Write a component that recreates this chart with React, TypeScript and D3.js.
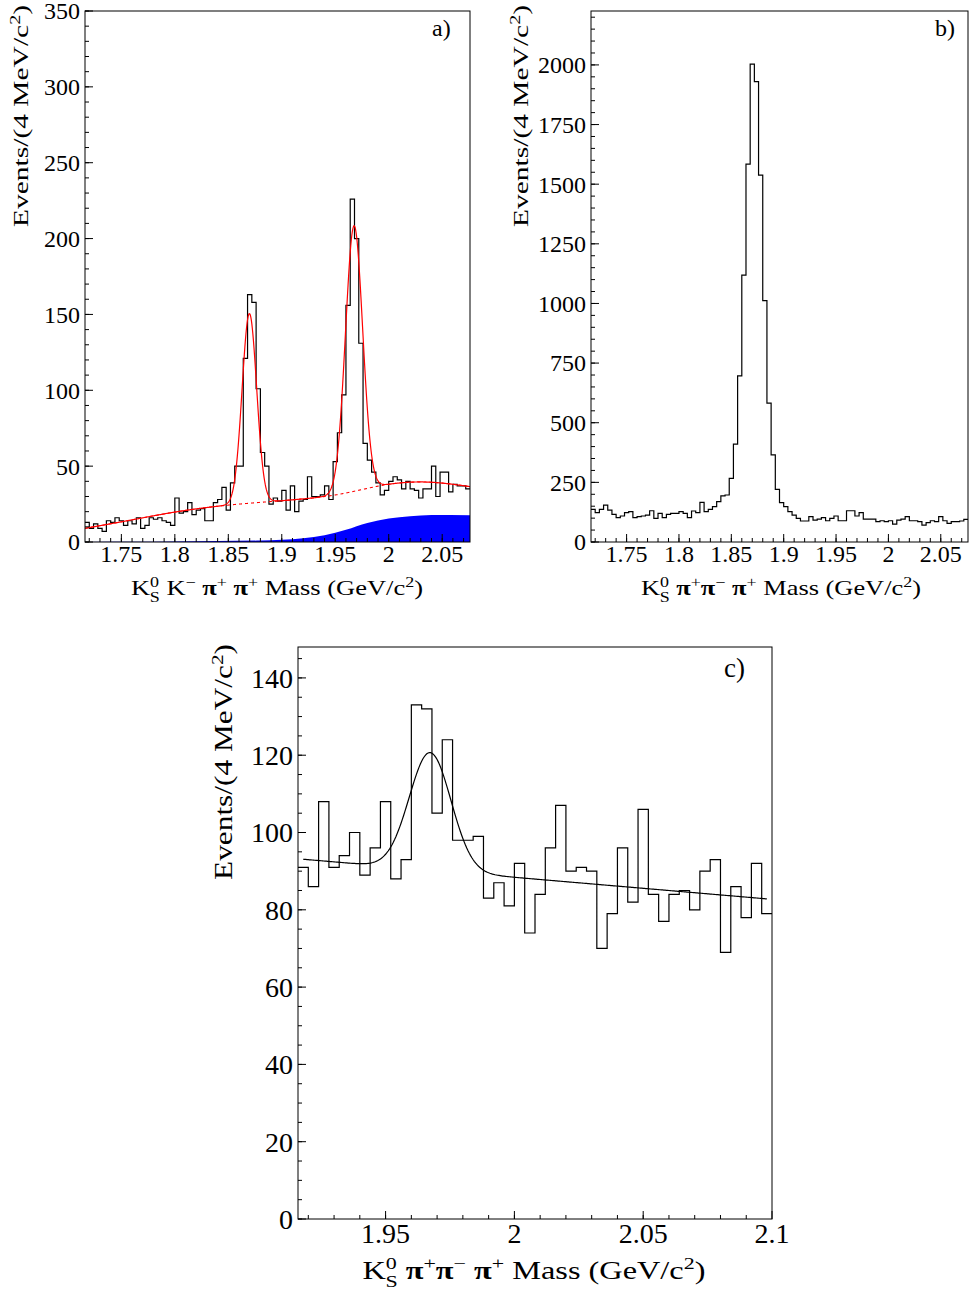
import React from "react";
import * as d3 from "d3";

const FONT = '"Liberation Serif", "Times New Roman", serif';

// 4 MeV bins
const binW = 0.004;
const loAB = 1.716;
const hiAB = 2.076;
const loC = 1.916;
const hiC = 2.1;

// a) K0S K- pi+ pi+
const countsA = [
  13, 9, 12, 9, 7, 14, 13, 16, 14, 11, 14, 12, 16, 9, 11, 16, 15, 16, 14, 13,
  11, 29, 19, 20, 26, 18, 21, 22, 14, 14, 26, 28, 36, 21, 39, 50, 50, 121, 163, 158,
  101, 59, 50, 25, 29, 27, 34, 21, 37, 20, 27, 28, 43, 30, 30, 31, 37, 28, 53, 72,
  97, 156, 226, 200, 131, 65, 54, 46, 39, 31, 34, 40, 43, 41, 35, 40, 35, 34, 29, 35,
  35, 50, 30, 46, 46, 33, 38, 37, 37, 35,
];
// background knots (uniform over 1.716..2.076)
const bgKnotsA = [9, 14, 19.5, 23.5, 26, 28, 31, 38.5, 40.5, 36.5];
const peaksA = [
  { mean: 1.8697, sigma: 0.0068, amp: 125 },
  { mean: 1.9676, sigma: 0.008, amp: 175 },
];
// blue filled component
const blueX = [1.716, 1.76, 1.8, 1.84, 1.88, 1.92, 1.94, 1.96, 1.98, 2.0, 2.02, 2.04, 2.076];
const blueY = [0, 0.1, 0.3, 0.6, 1.0, 2.5, 4.5, 8, 12.5, 15.5, 17, 17.8, 17.6];

// b) K0S pi+ pi- pi+
const countsB = [
  137, 123, 137, 155, 134, 116, 102, 109, 123, 127, 102, 106, 109, 113, 131, 99, 120, 102, 116, 120,
  120, 127, 120, 102, 130, 123, 166, 127, 137, 148, 169, 193, 197, 267, 410, 696, 1119, 1584, 2003, 1930,
  1538, 1012, 582, 365, 221, 165, 148, 127, 113, 99, 88, 88, 106, 92, 96, 102, 89, 99, 109, 89,
  89, 131, 131, 109, 123, 96, 96, 96, 85, 89, 85, 89, 75, 92, 96, 106, 89, 89, 85, 71,
  81, 89, 85, 106, 89, 78, 85, 85, 88, 95,
];

// c) K0S pi+ pi- pi+ zoom
const countsC = [
  91, 86, 108, 91, 94, 100, 89, 96, 108, 88, 93, 133, 132, 105, 124, 98, 98, 99, 83, 87,
  81, 92, 74, 84, 96, 107, 90, 91, 90, 70, 79, 96, 82, 106, 84, 77, 84, 85, 80, 90,
  93, 69, 86, 78, 92, 79,
];
const lineC = { p0: 93.2, slope: -57 };
const peakC = { mean: 1.9673, sigma: 0.0081, amp: 30.4 };
const fitRangeC = [1.918, 2.098];

const gauss = (x: number, p: { mean: number; sigma: number; amp: number }) =>
  p.amp * Math.exp(-0.5 * ((x - p.mean) / p.sigma) ** 2);

const fmtX = (v: number) => String(+v.toFixed(2));

function histPath(counts: number[], lo: number, x: any, y: any) {
  const pts: [number, number][] = counts.map((c, i) => [lo + i * binW, c]);
  pts.push([lo + counts.length * binW, counts[counts.length - 1]]);
  return d3
    .line<[number, number]>()
    .x((d) => x(d[0]))
    .y((d) => y(d[1]))
    .curve(d3.curveStepAfter)(pts) as string;
}

// rich text: segments of [kind, text, text2]
type Seg = [string, string, string?];
function Rich({ segs, size }: { segs: Seg[]; size: number }) {
  const small = size * 0.68;
  const out: any[] = [];
  let level = 0;
  segs.forEach(([kind, a, b], i) => {
    if (kind === "n" || kind === "pi") {
      out.push(
        <tspan key={i} dy={-level} fontSize={size} fontWeight={kind === "pi" ? "bold" : undefined}>
          {a}
        </tspan>
      );
      level = 0;
    } else if (kind === "sup") {
      const t = -size * 0.38;
      out.push(
        <tspan key={i} dy={t - level} fontSize={small}>
          {a}
        </tspan>
      );
      level = t;
    } else if (kind === "stack") {
      const t = -size * 0.38;
      const s = size * 0.3;
      out.push(
        <tspan key={i + "a"} dy={t - level} fontSize={small}>
          {a}
        </tspan>
      );
      out.push(
        <tspan key={i + "b"} dx={-small * 0.52} dy={s - t} fontSize={small}>
          {b}
        </tspan>
      );
      level = s;
    }
  });
  return <>{out}</>;
}

const yTitle: Seg[] = [["n", "Events/(4 MeV/c"], ["sup", "2"], ["n", ")"]];
const xTitleA: Seg[] = [
  ["n", "K"], ["stack", "0", "S"], ["n", " K"], ["sup", "\u2212"], ["n", " "], ["pi", "\u03c0"],
  ["sup", "+"], ["n", " "], ["pi", "\u03c0"], ["sup", "+"], ["n", " Mass (GeV/c"], ["sup", "2"], ["n", ")"],
];
const xTitleB: Seg[] = [
  ["n", "K"], ["stack", "0", "S"], ["n", " "], ["pi", "\u03c0"], ["sup", "+"], ["pi", "\u03c0"],
  ["sup", "\u2212"], ["n", " "], ["pi", "\u03c0"], ["sup", "+"], ["n", " Mass (GeV/c"], ["sup", "2"], ["n", ")"],
];

type PanelProps = {
  x: any;
  y: any;
  xMajor: number[];
  xMinor: number[];
  yMajor: number[];
  yMinor: number[];
  tickFont: number;
  xLabelY: number;
  children?: any;
};

function Frame({ x, y, xMajor, xMinor, yMajor, yMinor, tickFont, xLabelY, children }: PanelProps) {
  const [x0, x1] = x.range();
  const [y0, y1] = y.range(); // y0 bottom
  const maj = 8;
  const min = 4;
  return (
    <g>
      {children}
      <rect x={x0} y={y1} width={x1 - x0} height={y0 - y1} fill="none" stroke="#000" strokeWidth={1} />
      {yMinor.map((v) => (
        <line key={"ym" + v} x1={x0} x2={x0 + min} y1={y(v)} y2={y(v)} stroke="#000" />
      ))}
      {yMajor.map((v) => (
        <line key={"yM" + v} x1={x0} x2={x0 + maj} y1={y(v)} y2={y(v)} stroke="#000" />
      ))}
      {xMinor.map((v) => (
        <line key={"xm" + v} x1={x(v)} x2={x(v)} y1={y0} y2={y0 - min} stroke="#000" />
      ))}
      {xMajor.map((v) => (
        <line key={"xM" + v} x1={x(v)} x2={x(v)} y1={y0} y2={y0 - maj} stroke="#000" />
      ))}
      {yMajor.map((v) => (
        <text key={"yl" + v} x={x0 - 5} y={y(v)} dy="0.35em" textAnchor="end" fontSize={tickFont}>
          {v}
        </text>
      ))}
      {xMajor.map((v) => (
        <text key={"xl" + v} x={x(v)} y={xLabelY} textAnchor="middle" fontSize={tickFont}>
          {fmtX(v)}
        </text>
      ))}
    </g>
  );
}

const rangeTicks = (a: number, b: number, step: number) =>
  d3.range(Math.round(a / step), Math.round(b / step) + 1).map((k) => +(k * step).toFixed(4));

export default function App() {
  // panel a
  const xa = d3.scaleLinear().domain([loAB, hiAB]).range([85, 470]);
  const ya = d3.scaleLinear().domain([0, 350]).range([542, 11]);
  const bgA = d3.interpolateBasis(bgKnotsA);
  const bgAt = (v: number) => bgA((v - loAB) / (hiAB - loAB));
  const xs = d3.range(loAB, hiAB + 1e-9, 0.0005);
  const lineA = d3
    .line<number>()
    .x((v) => xa(v))
    .y((v) => ya(bgAt(v) + peaksA.reduce((s, p) => s + gauss(v, p), 0)));
  const lineBgA = d3
    .line<number>()
    .x((v) => xa(v))
    .y((v) => ya(bgAt(v)));
  const blueArea = d3
    .area<number>()
    .x((_, i) => xa(blueX[i]))
    .y0(ya(0))
    .y1((d) => ya(d))
    .curve(d3.curveMonotoneX);

  // panel b
  const xb = d3.scaleLinear().domain([loAB, hiAB]).range([591, 968]);
  const yb = d3.scaleLinear().domain([0, 2226]).range([542, 11]);

  // panel c
  const xc = d3.scaleLinear().domain([loC, hiC]).range([298, 772]);
  const yc = d3.scaleLinear().domain([0, 148]).range([1219, 647]);
  const xsC = d3.range(fitRangeC[0], fitRangeC[1] + 1e-9, 0.0005);
  const fitC = d3
    .line<number>()
    .x((v) => xc(v))
    .y((v) => yc(lineC.p0 + lineC.slope * (v - loC) + gauss(v, peakC)));

  const xMajAB = rangeTicks(1.75, 2.05, 0.05);
  const xMinAB = rangeTicks(1.72, 2.07, 0.01);

  return (
    <svg
      width={969}
      height={1291}
      style={{ position: "absolute", left: 0, top: 0, background: "#fff" }}
      fontFamily={FONT}
    >
      <defs>
        <clipPath id="clipA">
          <rect x={85} y={11} width={385} height={531} />
        </clipPath>
      </defs>

      {/* a) */}
      <Frame
        x={xa}
        y={ya}
        xMajor={xMajAB}
        xMinor={xMinAB}
        yMajor={rangeTicks(0, 350, 50)}
        yMinor={rangeTicks(0, 350, 10)}
        tickFont={24}
        xLabelY={562}
      >
        <g clipPath="url(#clipA)">
          <path d={blueArea(blueY) as string} fill="#0000ff" />
          <path d={histPath(countsA, loAB, xa, ya)} fill="none" stroke="#000" strokeWidth={1.2} />
          <path d={lineBgA(xs) as string} fill="none" stroke="#ff0000" strokeWidth={1.1} strokeDasharray="3,3" />
          <path d={lineA(xs) as string} fill="none" stroke="#ff0000" strokeWidth={1.2} />
        </g>
      </Frame>
      <text x={432} y={36} fontSize={24}>a)</text>
      <text transform="translate(28,227) rotate(-90)" fontSize={22} textLength={222} lengthAdjust="spacingAndGlyphs">
        <Rich segs={yTitle} size={22} />
      </text>
      <text x={277} y={595} textAnchor="middle" fontSize={22} textLength={292} lengthAdjust="spacingAndGlyphs">
        <Rich segs={xTitleA} size={22} />
      </text>

      {/* b) */}
      <Frame
        x={xb}
        y={yb}
        xMajor={xMajAB}
        xMinor={xMinAB}
        yMajor={rangeTicks(0, 2000, 250)}
        yMinor={rangeTicks(0, 2200, 50)}
        tickFont={24}
        xLabelY={562}
      >
        <path d={histPath(countsB, loAB, xb, yb)} fill="none" stroke="#000" strokeWidth={1.2} />
      </Frame>
      <text x={935} y={36} fontSize={24}>b)</text>
      <text transform="translate(528,227) rotate(-90)" fontSize={22} textLength={222} lengthAdjust="spacingAndGlyphs">
        <Rich segs={yTitle} size={22} />
      </text>
      <text x={781} y={595} textAnchor="middle" fontSize={22} textLength={280} lengthAdjust="spacingAndGlyphs">
        <Rich segs={xTitleB} size={22} />
      </text>

      {/* c) */}
      <Frame
        x={xc}
        y={yc}
        xMajor={rangeTicks(1.95, 2.1, 0.05)}
        xMinor={rangeTicks(1.92, 2.09, 0.01)}
        yMajor={rangeTicks(0, 140, 20)}
        yMinor={rangeTicks(0, 145, 5)}
        tickFont={28}
        xLabelY={1243}
      >
        <path d={histPath(countsC, loC, xc, yc)} fill="none" stroke="#000" strokeWidth={1.2} />
        <path d={fitC(xsC) as string} fill="none" stroke="#000" strokeWidth={1.2} />
      </Frame>
      <text x={724} y={677} fontSize={27}>c)</text>
      <text transform="translate(232,880) rotate(-90)" fontSize={25} textLength={236} lengthAdjust="spacingAndGlyphs">
        <Rich segs={yTitle} size={25} />
      </text>
      <text x={534} y={1279} textAnchor="middle" fontSize={26} textLength={343} lengthAdjust="spacingAndGlyphs">
        <Rich segs={xTitleB} size={26} />
      </text>
    </svg>
  );
}
